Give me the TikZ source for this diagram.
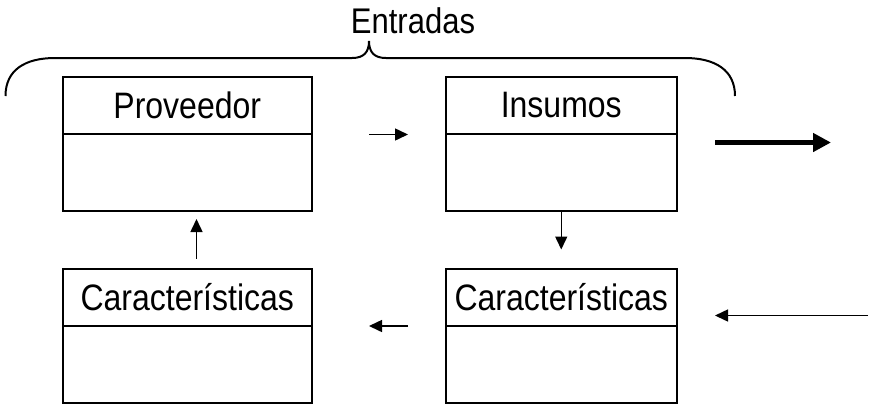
\documentclass[tikz,border=0pt]{standalone}
\usepackage{fontspec}
\usepackage{graphicx}
\setmainfont{Liberation Sans}
\usetikzlibrary{arrows.meta,positioning}

\newcommand{\talltext}[1]{\scalebox{1}[1.15]{#1}}

\tikzset{
    boxhead/.style={draw, line width=2pt, outer sep=0pt, inner sep=0pt,
        minimum width=#1, minimum height=57pt, font=\fontsize{32}{38}\selectfont},
    boxbody/.style={draw, line width=2pt, outer sep=0pt, inner sep=0pt,
        minimum width=#1, minimum height=77pt},
    flow/.style={line width=1.5pt, -{Triangle[length=13pt,width=12pt]}},
    bigflow/.style={line width=5pt, -{Triangle[length=18pt,width=18pt]}}
}

\begin{document}
\begin{tikzpicture}[x=1pt,y=-1pt]
    \useasboundingbox (0,0) rectangle (870,405);

    % cajas
    \node[boxhead=249.5pt] (prov) at (187.25,105.5) {\talltext{Proveedor}};
    \node[boxbody=249.5pt, below=0pt of prov] (provb) {};
    \node[boxhead=230.5pt] (ins) at (561.25,105.5) {\talltext{Insumos}};
    \node[boxbody=230.5pt, below=0pt of ins] (insb) {};
    \node[boxhead=249.5pt] (caracl) at (187.25,297.5) {\talltext{Características}};
    \node[boxbody=249.5pt, below=0pt of caracl] (caraclb) {};
    \node[boxhead=230.5pt] (caracr) at (561.25,297.5) {\talltext{Características}};
    \node[boxbody=230.5pt, below=0pt of caracr] (caracrb) {};

    % llave de entradas
    \node[font=\fontsize{31}{36}\selectfont] (entradas) at (413,21) {\talltext{Entradas}};
    \draw[line width=2pt] (5.5,96) .. controls (5.5,70) and (25,58) .. (55,58)
        -- (352,58) .. controls (364,58) and (369,52) .. (369,41)
        .. controls (369,52) and (374,58) .. (386,58)
        -- (685,58) .. controls (715,58) and (735,70) .. (735,96);

    % flechas
    \coordinate (a1) at (369,134.5);
    \coordinate (a2) at (408,134.5);
    \coordinate (b1) at (715,142.5);
    \coordinate (b2) at (831,142.5);
    \coordinate (c2) at (561.25,249.5);
    \coordinate (d1) at (408,326);
    \coordinate (d2) at (369,326);
    \coordinate (e1) at (868,315.5);
    \coordinate (e2) at (715,315.5);
    \coordinate (f1) at (196.5,258.5);
    \coordinate (f2) at (196.5,219);

    \draw[flow] (a1) -- (a2);
    \draw[bigflow] (b1) -- (b2);
    \draw[flow] (insb.south) -- (c2);
    \draw[flow] (d1) -- (d2);
    \draw[flow] (e1) -- (e2);
    \draw[flow] (f1) -- (f2);
\end{tikzpicture}
\end{document}
